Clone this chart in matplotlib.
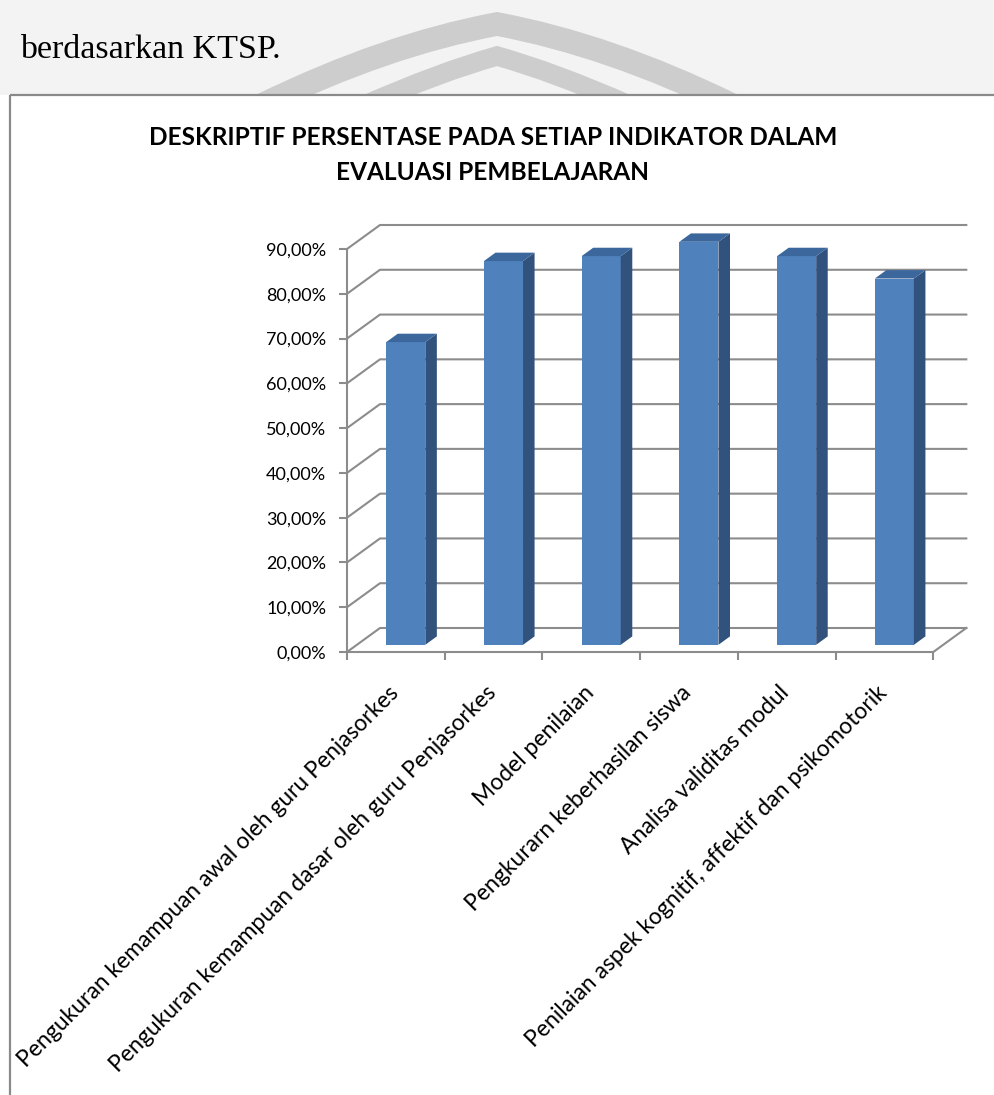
import matplotlib
matplotlib.use("Agg")
import matplotlib.pyplot as plt
from matplotlib.patches import Polygon, Rectangle, PathPatch
from matplotlib.path import Path

# data
categories = [
    "Pengukuran kemampuan awal oleh guru Penjasorkes",
    "Pengukuran kemampuan dasar oleh guru Penjasorkes",
    "Model penilaian",
    "Pengkurarn keberhasilan siswa",
    "Analisa validitas modul",
    "Penilaian aspek kognitif, affektif dan psikomotorik",
]
values = [67.6, 85.7, 86.8, 90.0, 86.8, 81.8]
yticks = [0, 10, 20, 30, 40, 50, 60, 70, 80, 90]
ytick_labels = ["0,00%", "10,00%", "20,00%", "30,00%", "40,00%",
                "50,00%", "60,00%", "70,00%", "80,00%", "90,00%"]
title = "DESKRIPTIF PERSENTASE PADA SETIAP INDIKATOR DALAM\nEVALUASI PEMBELAJARAN"
caption = "berdasarkan KTSP."

W, H = 994, 1095
grid_c = "#8c8c8c"
front_c = "#4f81bd"
side_c = "#31527d"
top_c = "#3c679c"
font = "Lato"

fig = plt.figure(figsize=(W / 100, H / 100), dpi=100)

# page background / decorations in pixel coords
bg = fig.add_axes([0, 0, 1, 1], zorder=-1)
bg.set_xlim(0, W)
bg.set_ylim(H, 0)
bg.axis("off")
bg.add_patch(Rectangle((0, 0), W, 95, color="#f3f3f3", lw=0))
# watermark arcs
for (x0, y0, cx, cy, px, py, lw) in [(262, 105, 385, 45, 497, 24, 17),
                                     (365, 105, 440, 72, 497, 56, 14)]:
    verts = [(x0, y0), (cx, cy), (px, py), (2 * px - cx, cy), (2 * px - x0, y0)]
    codes = [Path.MOVETO, Path.CURVE3, Path.CURVE3, Path.CURVE3, Path.CURVE3]
    bg.add_patch(PathPatch(Path(verts, codes), fill=False, ec="#cdcdcd", lw=lw))
bg.add_patch(Rectangle((10, 95), W, H, color="white", lw=0, zorder=3))
bg.plot([10, W], [95, 95], color="#8a8a8a", lw=1.6, zorder=4, solid_capstyle="butt")
bg.plot([10, 10], [95, H], color="#8a8a8a", lw=1.6, zorder=4, solid_capstyle="butt")
bg.text(20, 58, caption, fontsize=24.5, family="Liberation Serif", va="baseline")

fig.text(493 / W, 1 - 155 / H, title, ha="center", va="center", fontsize=17.6,
         fontweight="bold", family=font, linespacing=1.6)

# plot area (front plane)
x0, x1, yb, yt = 347, 933.3, 652, 249
ax = fig.add_axes([x0 / W, 1 - yb / H, (x1 - x0) / W, (yb - yt) / H])
ax.patch.set_visible(False)
n = len(categories)
ax.set_xlim(0, n)
ax.set_ylim(0, 90)

# depth offset of the back wall, in data units
DX = 33 / ((x1 - x0) / n)
DY = 24 / ((yb - yt) / 90)

for t in yticks:
    ax.plot([0, DX, n + DX], [t, t + DY, t + DY], color=grid_c, lw=1.5, clip_on=False)
ax.plot([n, n + DX], [0, DY], color=grid_c, lw=1.5, clip_on=False)

# 3d-ish columns
f0, f1 = 0.3, 0.65
bw = 0.4
for i, v in enumerate(values):
    l = i + 0.5 - bw / 2 + f0 * DX
    r = l + bw
    b = f0 * DY
    ox, oy = (f1 - f0) * DX, (f1 - f0) * DY
    ax.add_patch(Rectangle((l, b), bw, v, color=front_c, lw=0, clip_on=False, zorder=3))
    ax.add_patch(Polygon([(r, b), (r, b + v), (r + ox, b + v + oy), (r + ox, b + oy)],
                         closed=True, color=side_c, lw=0, clip_on=False, zorder=3))
    ax.add_patch(Polygon([(l, b + v), (r, b + v), (r + ox, b + v + oy), (l + ox, b + v + oy)],
                         closed=True, color=top_c, lw=0, clip_on=False, zorder=3))

for s in ["top", "right"]:
    ax.spines[s].set_visible(False)
for s in ["left", "bottom"]:
    ax.spines[s].set_color(grid_c)
    ax.spines[s].set_linewidth(1.5)
ax.set_yticks(yticks)
ax.set_yticklabels(ytick_labels, family=font, fontsize=13)
ax.set_xticks(range(n + 1))
ax.set_xticklabels([])
ax.tick_params(axis="both", length=6, width=1.5, color=grid_c)
ax.tick_params(axis="y", pad=9)

for i, c in enumerate(categories):
    ax.text(i + 0.49, -8.4, c, rotation=45, rotation_mode="anchor", ha="right",
            va="center", fontsize=16.5, family=font, clip_on=False)

fig.savefig("out.png", dpi=100)
